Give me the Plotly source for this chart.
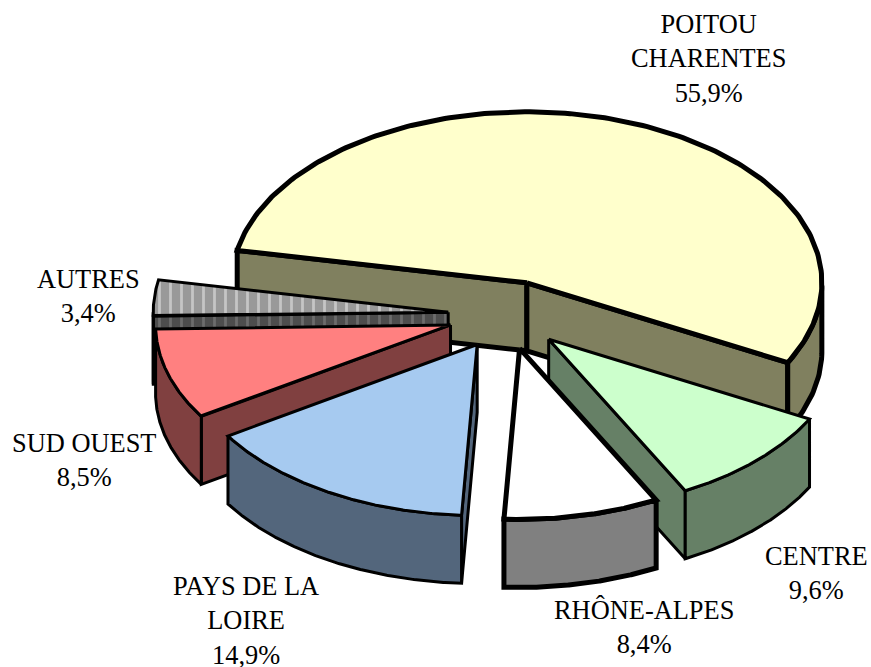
import numpy as np
import plotly.graph_objects as go

# Data, clockwise from the first slice
names = ["POITOU<br>CHARENTES", "CENTRE", "RHÔNE-ALPES", "PAYS DE LA<br>LOIRE", "SUD OUEST", "AUTRES"]
values = [55.9, 9.6, 8.4, 14.9, 8.5, 3.4]
label_text = ["55,9%", "9,6%", "8,4%", "14,9%", "8,5%", "3,4%"]

# Styles
top_colors = ["#FFFFCC", "#CCFFCC", "#FFFFFF", "#A6CAF0", "#FF8080", "#999999"]
side_colors = ["#80805F", "#668066", "#808080", "#53667C", "#804040", "#4D4D4D"]
line_widths = [5, 3, 5, 3, 3, 3]
label_x = [708, 816, 644, 246, 84, 88]
label_y = [58, 573, 627, 620, 460, 296]

# Projection of the pie
CX, CY = 507, 315
RX, RY = 295, 171
DEPTH = 68
EXPLODE = 0.2
START = 170.0

fig = go.Figure()


def view_angle(deg):
    """Small angular distortion of the 3D view (degrees in, radians out)."""
    d = np.asarray(deg, dtype=float)
    return np.radians(d + 0.5 + 1.5 * np.cos(np.radians(d + 30)))


def add_poly(x, y, fill, width, pattern=None):
    kw = {}
    if pattern:
        kw["fillpattern"] = dict(shape="|", bgcolor=fill, fgcolor=pattern,
                                 size=11, solidity=0.25, fillmode="overlay")
    fig.add_trace(go.Scatter(
        x=np.r_[x, x[0]], y=np.r_[y, y[0]], mode="lines", fill="toself", fillcolor=fill,
        line=dict(color="black", width=width), hoverinfo="skip", showlegend=False, **kw))


total = sum(values)
spans = []
angle = START
for v in values:
    sweep = 360.0 * v / total
    spans.append((angle, angle - sweep))
    angle -= sweep


def order_key(i):
    mid = np.radians(sum(spans[i]) / 2)
    return -np.sin(mid)


for i in sorted(range(len(values)), key=order_key):
    a0, a1 = spans[i]
    mid = view_angle((a0 + a1) / 2)
    ax = CX + EXPLODE * RX * np.cos(mid)
    ay = CY - EXPLODE * RY * np.sin(mid)
    t = view_angle(np.linspace(a0, a1, 200))
    rim_x = ax + RX * np.cos(t)
    rim_y = ay - RY * np.sin(t)
    w = line_widths[i]
    side_pat = "#8C8C8C" if names[i] == "AUTRES" else None
    top_pat = "#F2F2F2" if names[i] == "AUTRES" else None

    # Radial walls that face the viewer
    if np.cos(t[0]) < 0:
        add_poly(np.array([ax, rim_x[0], rim_x[0], ax]),
                 np.array([ay, rim_y[0], rim_y[0] + DEPTH, ay + DEPTH]), side_colors[i], w, side_pat)
    if np.cos(t[-1]) > 0:
        add_poly(np.array([ax, rim_x[-1], rim_x[-1], ax]),
                 np.array([ay, rim_y[-1], rim_y[-1] + DEPTH, ay + DEPTH]), side_colors[i], w, side_pat)
    # Outer wall: only the front half of the rim
    front = np.sin(t) <= 0
    if front.any():
        fx, fy = rim_x[front], rim_y[front]
        add_poly(np.r_[fx, fx[::-1]], np.r_[fy, (fy + DEPTH)[::-1]], side_colors[i], w, side_pat)
    # Top face
    add_poly(np.r_[ax, rim_x], np.r_[ay, rim_y], top_colors[i], w, top_pat)

for n, p, x, y in zip(names, label_text, label_x, label_y):
    fig.add_annotation(x=x, y=y, xref="x", yref="y", text=f"{n}<br>{p}", showarrow=False,
                       align="center", xanchor="center", yanchor="middle",
                       font=dict(family="Liberation Serif", size=26.4, color="black"))

fig.update_layout(
    width=871, height=667, margin=dict(l=0, r=0, t=0, b=0),
    paper_bgcolor="white", plot_bgcolor="white",
    xaxis=dict(range=[0, 871], visible=False, domain=[0, 1]),
    yaxis=dict(range=[667, 0], visible=False, domain=[0, 1]),
)
fig.write_html("out.html", config={"displayModeBar": False},
               post_script="document.body.style.margin='0';document.body.style.overflow='hidden';")
